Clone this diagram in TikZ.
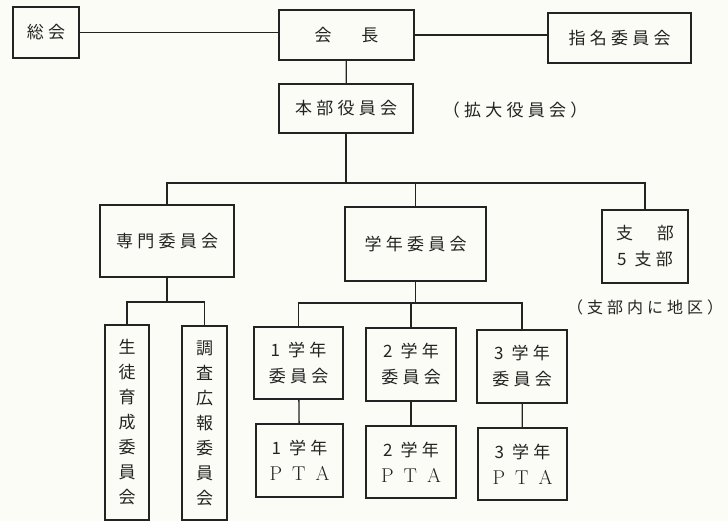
\documentclass[tikz,border=0pt]{standalone}
\usepackage{fontspec}
\newfontfamily\jp[LetterSpace=25]{Noto Sans CJK JP}
\newcommand\pta{{\rmfamily\fontsize{20}{26}\selectfont P\hspace{.5em}T\hspace{.5em}A}}
\definecolor{paper}{RGB}{252,252,246}
\definecolor{ink}{RGB}{35,35,35}

\begin{document}
\begin{tikzpicture}[x=1pt,y=-1pt,line width=1.3pt,draw=ink,text=ink,
  box/.style={draw=ink,inner sep=0pt,align=center,font=\jp\fontsize{17}{26}\selectfont},
  vbox/.style={box,font=\jp\fontsize{17}{25}\selectfont},
  note/.style={inner sep=0pt,font=\jp\fontsize{17}{20}\selectfont}]
\fill[paper] (0,0) rectangle (728,521);
\useasboundingbox (0,0) rectangle (728,521);
% top row
\node[box,minimum width=66pt,minimum height=51pt] (sokai) at (46,32.5) {総会};
\node[box,minimum width=135pt,minimum height=50pt] (kaicho) at (346.5,35) {会\hspace{1.75em}長};
\node[box,minimum width=143pt,minimum height=50pt] (shimei) at (619.5,38) {指名委員会};
\node[box,minimum width=134pt,minimum height=49pt] (honbu) at (346,108.5) {本部役員会};
\node[note] (kakudai) at (515,110) {（拡大役員会）};
% second row
\node[box,minimum width=134pt,minimum height=72pt] (senmon) at (167,241) {専門委員会};
\node[box,minimum width=141pt,minimum height=74pt] (gakunen) at (415.5,244) {学年委員会};
\node[box,minimum width=86pt,minimum height=73pt] (shibu) at (645,246.5) {支\hspace{1.4em}部\\5 支部};
\node[note,font=\jp\fontsize{16}{20}\selectfont] (chiku) at (645,307) {（支部内に地区）};
% third row
\node[vbox,minimum width=44pt,minimum height=195pt] (seito) at (127,422.5) {生\\徒\\育\\成\\委\\員\\会};
\node[vbox,minimum width=45pt,minimum height=194pt] (chosa) at (204.5,423) {調\\査\\広\\報\\委\\員\\会};
\node[box,minimum width=89pt,minimum height=72pt] (g1) at (298.5,363) {1 学年\\委員会};
\node[box,minimum width=90pt,minimum height=73pt] (g2) at (411,364.5) {2 学年\\委員会};
\node[box,minimum width=90pt,minimum height=73pt] (g3) at (522,366.5) {3 学年\\委員会};
\node[box,minimum width=87pt,minimum height=73pt] (p1) at (299.5,460.5) {1 学年\\\pta};
\node[box,minimum width=90pt,minimum height=72pt] (p2) at (411,462) {2 学年\\\pta};
\node[box,minimum width=89pt,minimum height=72pt] (p3) at (522.5,464) {3 学年\\\pta};
% bus lines
\coordinate (bus1) at (0,183);
\coordinate (bus2) at (0,302);
\coordinate (bus3) at (0,303);
% connectors
\draw (sokai.east) -- (sokai.east -| kaicho.west);
\draw (kaicho.east) -- (kaicho.east -| shimei.west);
\draw (kaicho) -- (honbu);
\draw (honbu.south) -- (honbu.south |- bus1);
\draw (senmon.north) |- (shibu.north |- bus1) -- (shibu.north);
\draw (gakunen.north) -- (gakunen.north |- bus1);
\draw (senmon.south) -- (senmon.south |- bus2);
\draw (seito.north) |- (chosa.north |- bus2) -- (chosa.north);
\draw (gakunen.south) -- (gakunen.south |- bus3);
\draw (g1.north) |- (g3.north |- bus3) -- (g3.north);
\draw (g2.north) -- (g2.north |- bus3);
\draw (g1) -- (p1);
\draw (g2) -- (p2);
\draw (g3) -- (p3);
\end{tikzpicture}
\end{document}
